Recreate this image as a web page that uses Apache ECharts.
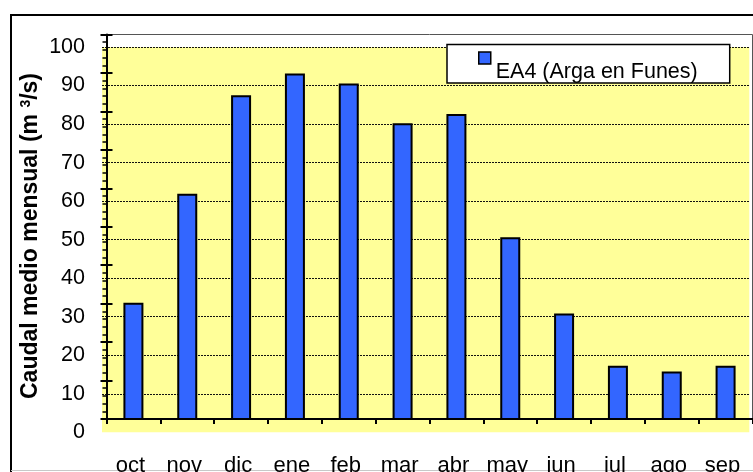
<!DOCTYPE html>
<html><head><meta charset="utf-8">
<script src="https://cdn.jsdelivr.net/npm/echarts@6/dist/echarts.min.js"></script>
<style>html,body{margin:0;padding:0;background:#fff}#c{width:753px;height:472px}</style>
</head><body><div id="c"></div>
<script>
// ---- data ----
const categories = ['oct','nov','dic','ene','feb','mar','abr','may','jun','jul','ago','sep'];
const caudal = [33.6, 61.9, 87.5, 93.1, 90.5, 80.2, 82.6, 50.6, 30.8, 17.3, 15.8, 17.3];
const seriesName = 'EA4 (Arga en Funes)';
const yMin = 0, yMax = 100, yStep = 10;
const yTitleMain = 'Caudal medio mensual (m ';
const yTitleSup = '3';
const yTitleEnd = '/s)';

const FONT = '"Liberation Sans", Arial, sans-serif';
const chart = echarts.init(document.getElementById('c'), null, {renderer:'canvas'});

chart.setOption({
  animation: false,
  backgroundColor: '#ffffff',
  grid: [
    {left: 102, top: 47, width: 647.3, height: 385.3, show: true, backgroundColor: '#FFFF99', borderWidth: 0,
     containLabel: false, outerBoundsMode: 'none'},
    {left: 106.5, top: 34.5, width: 646, height: 384.5, show: true, backgroundColor: 'transparent', borderColor: '#555', borderWidth: 1,
     containLabel: false, outerBoundsMode: 'none'}
  ],
  xAxis: [
    {gridIndex: 0, type: 'category', data: categories, show: false},
    {gridIndex: 1, type: 'category', data: categories, boundaryGap: true,
     axisLine: {onZero: false, lineStyle: {color: '#000', width: 2}},
     axisTick: {show: true, length: 5, interval: 0, lineStyle: {color: '#000', width: 2}},
     axisLabel: {interval: 0, fontSize: 22, color: '#000', margin: 36, padding: [0, 6, 0, 0], fontFamily: FONT}}
  ],
  yAxis: [
    {gridIndex: 0, type: 'value', min: yMin, max: yMax, interval: yStep, position: 'left',
     axisLine: {show: false}, axisTick: {show: false},
     axisLabel: {fontSize: 21.5, color: '#000', margin: 17, fontFamily: FONT},
     splitLine: {show: true, showMinLine: false, lineStyle: {color: '#111', width: 1, type: [2, 1]}}},
    {gridIndex: 1, type: 'value', min: yMin, max: yMax, interval: yStep, position: 'left',
     axisLine: {show: true, onZero: false, lineStyle: {color: '#000', width: 2}},
     axisTick: {show: true, length: 6, lineStyle: {color: '#000', width: 2}},
     minorTick: {show: true, splitNumber: 5, length: 4, lineStyle: {color: '#000', width: 1.5}},
     axisLabel: {show: false}, splitLine: {show: false}},
    {gridIndex: 1, type: 'value', min: yMin, max: yMax, interval: yStep, position: 'left',
     axisLine: {show: false},
     axisTick: {show: true, inside: true, length: 6, lineStyle: {color: '#000', width: 2}},
     axisLabel: {show: false}, splitLine: {show: false}},
    {gridIndex: 1, type: 'value', min: 3.45, max: 103.24, position: 'right', show: false}
  ],
  legend: {
    left: 447, top: 44.5, orient: 'horizontal',
    padding: [0, 32, 0, 31],
    backgroundColor: '#fff', borderColor: '#000', borderWidth: 1.5, borderRadius: 0,
    itemWidth: 12, itemHeight: 12, icon: 'rect',
    itemStyle: {borderColor: '#000', borderWidth: 1.5},
    formatter: '{s| }\n{t|{name}}',
    textStyle: {
      fontSize: 21.5, color: '#000', fontFamily: FONT,
      rich: {
        s: {fontSize: 10, lineHeight: 28},
        t: {fontSize: 21.5, lineHeight: 17, color: '#000', fontFamily: FONT}
      }
    },
    data: [seriesName]
  },
  series: [{
    type: 'bar', name: seriesName, xAxisIndex: 1, yAxisIndex: 3,
    data: caudal, barWidth: 20, clip: true,
    itemStyle: {color: '#3366FF', borderColor: '#000', borderWidth: 2}
  }],
  graphic: [
    {type: 'polyline', silent: true, shape: {points: [[11, 472], [11, 15], [753, 15]]},
     style: {fill: null, stroke: '#000', lineWidth: 2}},
    {type: 'line', silent: true, shape: {x1: 11, y1: 470.5, x2: 753, y2: 470.5},
     style: {stroke: '#c8c8c8', lineWidth: 1}},
    {type: 'text', silent: true, x: 31, y: 236, rotation: Math.PI / 2,
     style: {
       text: yTitleMain + '{sup|' + yTitleSup + '}' + yTitleEnd,
       fontSize: 23, fontWeight: 'bold', fontFamily: FONT, fill: '#000',
       align: 'center', verticalAlign: 'middle',
       rich: {sup: {fontSize: 14, fontWeight: 'bold', fontFamily: FONT, fill: '#000', verticalAlign: 'top'}}
     }}
  ]
});
</script>
</body></html>
